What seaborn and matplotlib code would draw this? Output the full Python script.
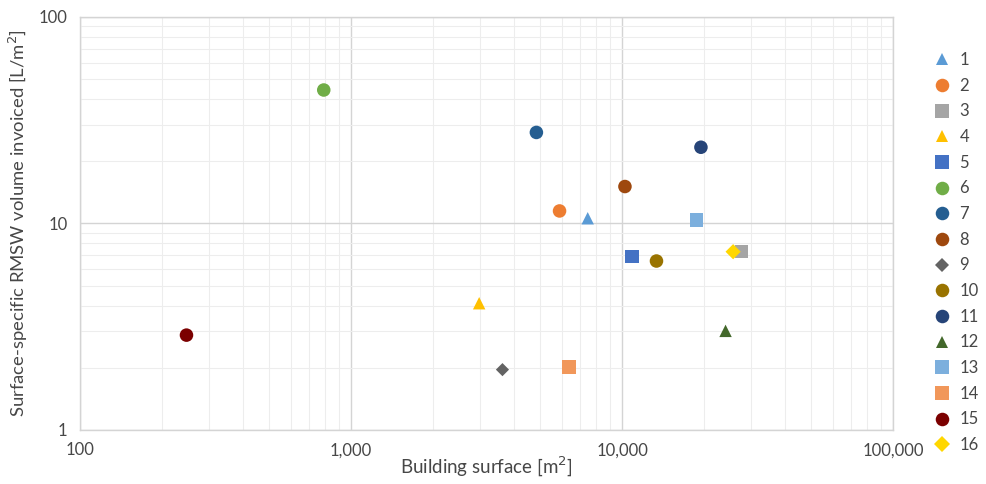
import numpy as np
import pandas as pd
import matplotlib
matplotlib.use("Agg")
import matplotlib.pyplot as plt
from matplotlib.lines import Line2D
import seaborn as sns
from matplotlib.ticker import FixedLocator, FuncFormatter, LogLocator, NullFormatter

# Building identifiers
buildings = ["1", "2", "3", "4", "5", "6", "7", "8", "9", "10", "11", "12", "13", "14", "15", "16"]
# Building surface [m²]
surface = [7470, 5880, 27600, 2970, 10900, 793, 4830, 10250, 3620, 13400, 19550, 24100, 18800, 6360, 247, 25700]
# Surface-specific RMSW volume invoiced [L/m²]
volume = [10.6, 11.5, 7.30, 4.11, 6.93, 44.3, 27.6, 15.1, 1.96, 6.58, 23.4, 3.02, 10.4, 2.02, 2.88, 7.30]

colors = ["#5B9BD5", "#ED7D31", "#A5A5A5", "#FFC000", "#4472C4", "#70AD47", "#255E91", "#9E480E",
          "#636363", "#997300", "#264478", "#43682B", "#7CAFDD", "#F1975A", "#7B0000", "#FFD700"]
marker_styles = ["^", "o", "s", "^", "s", "o", "o", "o", "D", "o", "o", "^", "s", "s", "o", "D"]
marker_sizes = [80, 95, 95, 80, 95, 95, 95, 95, 45, 95, 95, 80, 95, 95, 95, 60]

df = pd.DataFrame({"Building": buildings, "surface": surface, "volume": volume})

sns.set_style("white")
plt.rcParams["font.family"] = ["Lato", "DejaVu Sans"]
text_color = "#474747"

fig = plt.figure(figsize=(9.86, 4.84), dpi=100)
ax = fig.add_axes([0.0812, 0.1116, 0.9057 - 0.0812, 0.9649 - 0.1116])

sns.scatterplot(data=df, x="surface", y="volume", hue="Building", style="Building",
                palette=dict(zip(buildings, colors)),
                markers=dict(zip(buildings, marker_styles)),
                size="Building", sizes=dict(zip(buildings, marker_sizes)),
                edgecolor="none", linewidth=0, ax=ax, legend=False, zorder=3)

ax.set_xscale("log")
ax.set_yscale("log")
ax.set_xlim(100, 100000)
ax.set_ylim(1, 100)

ax.xaxis.set_major_locator(FixedLocator([100, 1000, 10000, 100000]))
ax.xaxis.set_major_formatter(FuncFormatter(lambda v, p: f"{int(round(v)):,}"))
ax.yaxis.set_major_locator(FixedLocator([1, 10, 100]))
ax.yaxis.set_major_formatter(FuncFormatter(lambda v, p: f"{int(round(v))}"))
ax.xaxis.set_minor_locator(LogLocator(base=10, subs=np.arange(2, 10)))
ax.yaxis.set_minor_locator(LogLocator(base=10, subs=np.arange(2, 10)))
ax.xaxis.set_minor_formatter(NullFormatter())
ax.yaxis.set_minor_formatter(NullFormatter())

ax.grid(which="major", color="#D4D4D4", linewidth=1.0, zorder=0)
ax.grid(which="minor", color="#EDEDED", linewidth=0.8, zorder=0)
ax.set_axisbelow(True)
for s in ax.spines.values():
    s.set_color("#D4D4D4")
    s.set_linewidth(1.0)

ax.tick_params(axis="both", which="both", length=0, labelsize=12, colors=text_color, pad=9)

ax.set_xlabel("Building surface [m$^2$]", fontsize=13.5, color=text_color, va="center")
ax.xaxis.set_label_coords(0.5, -0.0896)
ax.set_ylabel("Surface-specific RMSW volume invoiced [L/m$^2$]", fontsize=13.3, color=text_color,
              va="center", ha="center")
ax.yaxis.set_label_coords(-0.0763, 0.5)

# Legend: one entry per building with its own marker and colour
handles = [Line2D([], [], linestyle="none", marker=m, color=c, markeredgewidth=0,
                  markersize=np.sqrt(sz) * (1.0 if m != "D" else 1.05))
           for m, c, sz in zip(marker_styles, colors, marker_sizes)]
ax.legend(handles, buildings, loc="upper left", bbox_to_anchor=(0.940, 0.906),
          bbox_transform=fig.transFigure, frameon=False, fontsize=12, labelspacing=0.58,
          handlelength=1.0, handletextpad=0.55, labelcolor=text_color, borderaxespad=0)

fig.savefig("out.png", dpi=100)
